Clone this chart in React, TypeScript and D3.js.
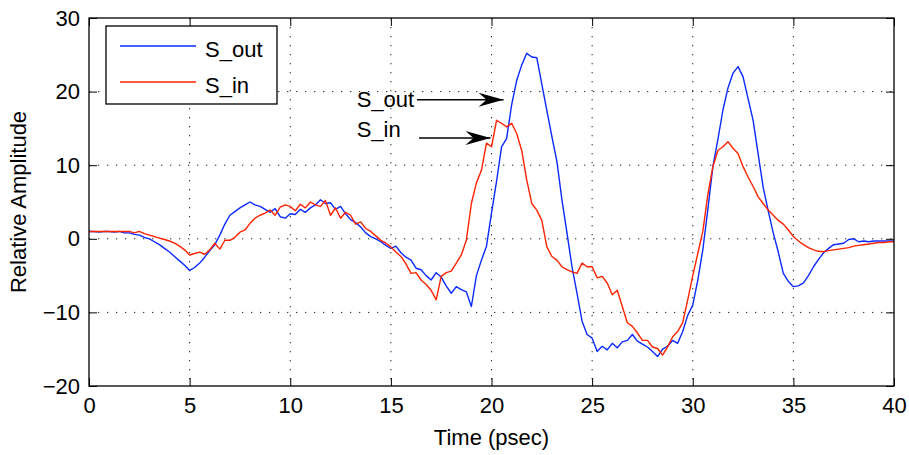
import React, { useRef, useEffect } from "react";
import * as d3 from "d3";

// time step of the sampled curves (psec)
const STEP = 0.25;

// S_out, one row per psec (t = k, k+0.25, k+0.5, k+0.75)
const sOut = [
  1.0, 1.0, 0.9, 1.0,
  1.0, 0.9, 1.0, 0.8,
  0.8, 0.6, 0.5, 0.2,
  0.0, -0.4, -0.8, -1.3,
  -1.8, -2.4, -3.0, -3.6,
  -4.3, -3.9, -3.3, -2.5,
  -1.6, -0.8, 0.5, 2.0,
  3.2, 3.7, 4.2, 4.6,
  5.0, 4.6, 4.4, 4.0,
  3.6, 4.1, 3.0, 2.8,
  3.4, 3.3, 4.0, 3.6,
  4.2, 4.6, 5.3, 4.8,
  4.9, 4.0, 4.4, 3.4,
  2.6, 2.2, 1.6, 0.8,
  0.3, 0.0, -0.4, -0.9,
  -1.3, -1.0, -1.9, -2.5,
  -2.9, -4.0, -4.2, -5.0,
  -5.6, -4.6, -5.2, -6.4,
  -7.4, -6.5, -6.9, -7.2,
  -9.2, -5.0, -2.9, -1.0,
  3.5, 7.8, 12.5, 13.6,
  18.2, 21.5, 23.6, 25.2,
  24.7, 24.6, 21.0, 17.4,
  13.9, 10.5, 5.3, 0.8,
  -3.8, -7.4, -11.2, -13.0,
  -13.5, -15.3, -14.6, -15.1,
  -14.2, -14.8, -14.0, -13.8,
  -13.0, -13.9, -14.3, -14.7,
  -15.3, -16.0, -15.0, -14.6,
  -13.8, -14.2, -12.6, -10.4,
  -9.0, -5.6, -1.5, 4.0,
  9.8, 13.5, 17.5, 20.5,
  22.5, 23.4, 22.0, 19.0,
  16.1, 11.5, 7.0, 3.8,
  0.8, -1.8, -4.7, -5.8,
  -6.5, -6.4, -6.0, -5.0,
  -3.8, -2.8, -1.9, -1.3,
  -0.8, -0.7, -0.6, -0.1,
  0.0, -0.4, -0.3, -0.4,
  -0.3, -0.3, -0.3, -0.3,
  -0.3,
];

// S_in, same sampling
const sIn = [
  1.0, 1.0, 1.0, 1.0,
  1.0, 1.0, 1.0, 1.0,
  1.0, 0.8, 1.0, 0.7,
  0.5, 0.3, 0.1, -0.1,
  -0.3, -0.6, -1.0, -1.5,
  -2.2, -2.0, -1.8, -2.1,
  -1.5, -0.6, -1.4, -0.2,
  -0.2, 0.2, 0.9, 1.2,
  2.1, 2.8, 3.2, 3.5,
  3.9, 3.2, 4.3, 4.6,
  4.4, 3.8, 4.7, 4.2,
  5.0, 4.6, 4.4, 5.2,
  3.2, 4.2, 2.8, 3.6,
  3.2, 2.0, 2.3, 1.4,
  1.0, 0.4, -0.2, -0.6,
  -1.1, -1.8, -2.4, -3.4,
  -4.7, -4.6, -5.6, -6.2,
  -7.0, -8.3, -5.1, -4.6,
  -4.4, -3.3, -2.2, -0.2,
  4.8, 7.6, 9.3, 13.0,
  12.5, 16.1, 15.7, 15.2,
  15.7, 14.3, 12.0, 8.0,
  4.8, 3.9, 2.5, -1.1,
  -2.4, -2.9, -3.8, -4.2,
  -4.5, -4.7, -3.3, -3.8,
  -3.8, -5.3, -5.1, -6.0,
  -7.6, -7.0, -9.2, -11.4,
  -11.9, -12.8, -13.8, -13.8,
  -14.7, -14.9, -15.8, -14.7,
  -13.3, -12.6, -11.4, -8.3,
  -5.0, -2.0, 1.0, 6.0,
  9.8, 12.0, 12.5, 13.2,
  12.3, 11.6, 9.8, 8.4,
  7.1, 5.7, 4.8, 3.9,
  3.2, 2.5, 2.0, 1.2,
  0.3, -0.3, -0.8, -1.2,
  -1.5, -1.7, -1.75, -1.6,
  -1.5, -1.4, -1.3, -1.2,
  -1.0, -0.9, -0.8, -0.7,
  -0.6, -0.5, -0.5, -0.4,
  -0.4,
];

const xTicks = [0, 5, 10, 15, 20, 25, 30, 35, 40];
const yTicks = [-20, -10, 0, 10, 20, 30];

const seriesNames = ["S_out", "S_in"];
const seriesColors = ["#0a2aff", "#ff2200"];

// text annotations with arrows, in data units: [label, textX, textY, arrowFromX, arrowToX, arrowY]
const annotations: [string, number, number, number, number, number][] = [
  ["S_out", 13.3, 17.9, 16.3, 20.6, 18.9],
  ["S_in", 13.3, 13.8, 16.4, 19.95, 13.7],
];

const W = 909;
const H = 455;
const margin = { top: 18, right: 15, bottom: 69, left: 89 };
const FONT = "'Liberation Sans', Arial, sans-serif";

const App = () => {
  const svgRef = useRef<SVGSVGElement>(null);

  useEffect(() => {
    const svg = d3.select(svgRef.current);
    svg.selectAll("*").remove();

    const iw = W - margin.left - margin.right;
    const ih = H - margin.top - margin.bottom;

    const x = d3.scaleLinear().domain([0, 40]).range([0, iw]);
    const y = d3.scaleLinear().domain([-20, 30]).range([ih, 0]);

    svg.append("rect").attr("width", W).attr("height", H).attr("fill", "#fff");

    const g = svg
      .append("g")
      .attr("transform", `translate(${margin.left},${margin.top})`);

    // dotted grid
    g.append("g")
      .selectAll("line")
      .data(xTicks.slice(1, -1))
      .enter()
      .append("line")
      .attr("x1", (d) => x(d))
      .attr("x2", (d) => x(d))
      .attr("y1", 0)
      .attr("y2", ih)
      .attr("stroke", "#222")
      .attr("stroke-dasharray", "1.3 7.7");
    g.append("g")
      .selectAll("line")
      .data(yTicks.slice(1, -1))
      .enter()
      .append("line")
      .attr("x1", 0)
      .attr("x2", iw)
      .attr("y1", (d) => y(d))
      .attr("y2", (d) => y(d))
      .attr("stroke", "#222")
      .attr("stroke-dasharray", "1.3 7.7");

    // curves
    const line = d3
      .line<number>()
      .x((_, i) => x(i * STEP))
      .y((d) => y(d));
    [sOut, sIn].forEach((s, i) => {
      g.append("path")
        .datum(s)
        .attr("d", line)
        .attr("fill", "none")
        .attr("stroke", seriesColors[i])
        .attr("stroke-width", 1.4)
        .attr("stroke-linejoin", "round");
    });

    // axes with inward ticks on all four sides
    const styleAxis = (a: any) => {
      a.select(".domain").remove();
      a.selectAll("line").attr("stroke", "#000");
      a.selectAll("text")
        .attr("font-family", FONT)
        .attr("font-size", 22)
        .attr("fill", "#000");
    };
    g.append("g")
      .attr("transform", `translate(0,${ih})`)
      .call(d3.axisBottom(x).tickValues(xTicks).tickSize(-8).tickPadding(11))
      .call(styleAxis);
    g.append("g")
      .call(d3.axisTop(x).tickValues(xTicks).tickSize(-8).tickFormat(() => ""))
      .call(styleAxis);
    g.append("g")
      .call(d3.axisLeft(y).tickValues(yTicks).tickSize(-8).tickPadding(9))
      .call(styleAxis);
    g.append("g")
      .attr("transform", `translate(${iw},0)`)
      .call(d3.axisRight(y).tickValues(yTicks).tickSize(-8).tickFormat(() => ""))
      .call(styleAxis);

    g.append("rect")
      .attr("width", iw)
      .attr("height", ih)
      .attr("fill", "none")
      .attr("stroke", "#000")
      .attr("stroke-width", 1.3);

    // axis titles
    svg
      .append("text")
      .attr("x", margin.left + iw / 2)
      .attr("y", 445)
      .attr("text-anchor", "middle")
      .attr("font-family", FONT)
      .attr("font-size", 22)
      .text("Time (psec)");
    svg
      .append("text")
      .attr("transform", `translate(26,${margin.top + ih / 2}) rotate(-90)`)
      .attr("text-anchor", "middle")
      .attr("font-family", FONT)
      .attr("font-size", 22)
      .text("Relative Amplitude");

    // annotations
    const defs = svg.append("defs");
    defs
      .append("marker")
      .attr("id", "head")
      .attr("viewBox", "-26 -8 28 16")
      .attr("refX", 0)
      .attr("refY", 0)
      .attr("markerWidth", 28)
      .attr("markerHeight", 16)
      .attr("markerUnits", "userSpaceOnUse")
      .attr("orient", "auto")
      .append("path")
      .attr("d", "M0,0 L-25,-7 L-17,0 L-25,7 Z")
      .attr("fill", "#000");
    annotations.forEach(([label, tx, ty, ax0, ax1, ay]) => {
      g.append("text")
        .attr("x", x(tx))
        .attr("y", y(ty))
        .attr("font-family", FONT)
        .attr("font-size", 22)
        .text(label);
      g.append("line")
        .attr("x1", x(ax0))
        .attr("x2", x(ax1))
        .attr("y1", y(ay))
        .attr("y2", y(ay))
        .attr("stroke", "#000")
        .attr("stroke-width", 1.4)
        .attr("marker-end", "url(#head)");
    });

    // legend
    const lg = svg.append("g");
    lg.append("rect")
      .attr("x", 106)
      .attr("y", 26)
      .attr("width", 171)
      .attr("height", 78)
      .attr("fill", "#fff")
      .attr("stroke", "#000")
      .attr("stroke-width", 1.3);
    seriesNames.forEach((name, i) => {
      const ly = 46 + i * 36;
      lg.append("line")
        .attr("x1", 120)
        .attr("x2", 196)
        .attr("y1", ly)
        .attr("y2", ly)
        .attr("stroke", seriesColors[i])
        .attr("stroke-width", 1.4);
      lg.append("text")
        .attr("x", 205)
        .attr("y", ly + 11)
        .attr("font-family", FONT)
        .attr("font-size", 22)
        .text(name);
    });
  }, []);

  return (
    <svg
      ref={svgRef}
      width={W}
      height={H}
      style={{ position: "absolute", left: 0, top: 0 }}
    ></svg>
  );
};

export default App;
